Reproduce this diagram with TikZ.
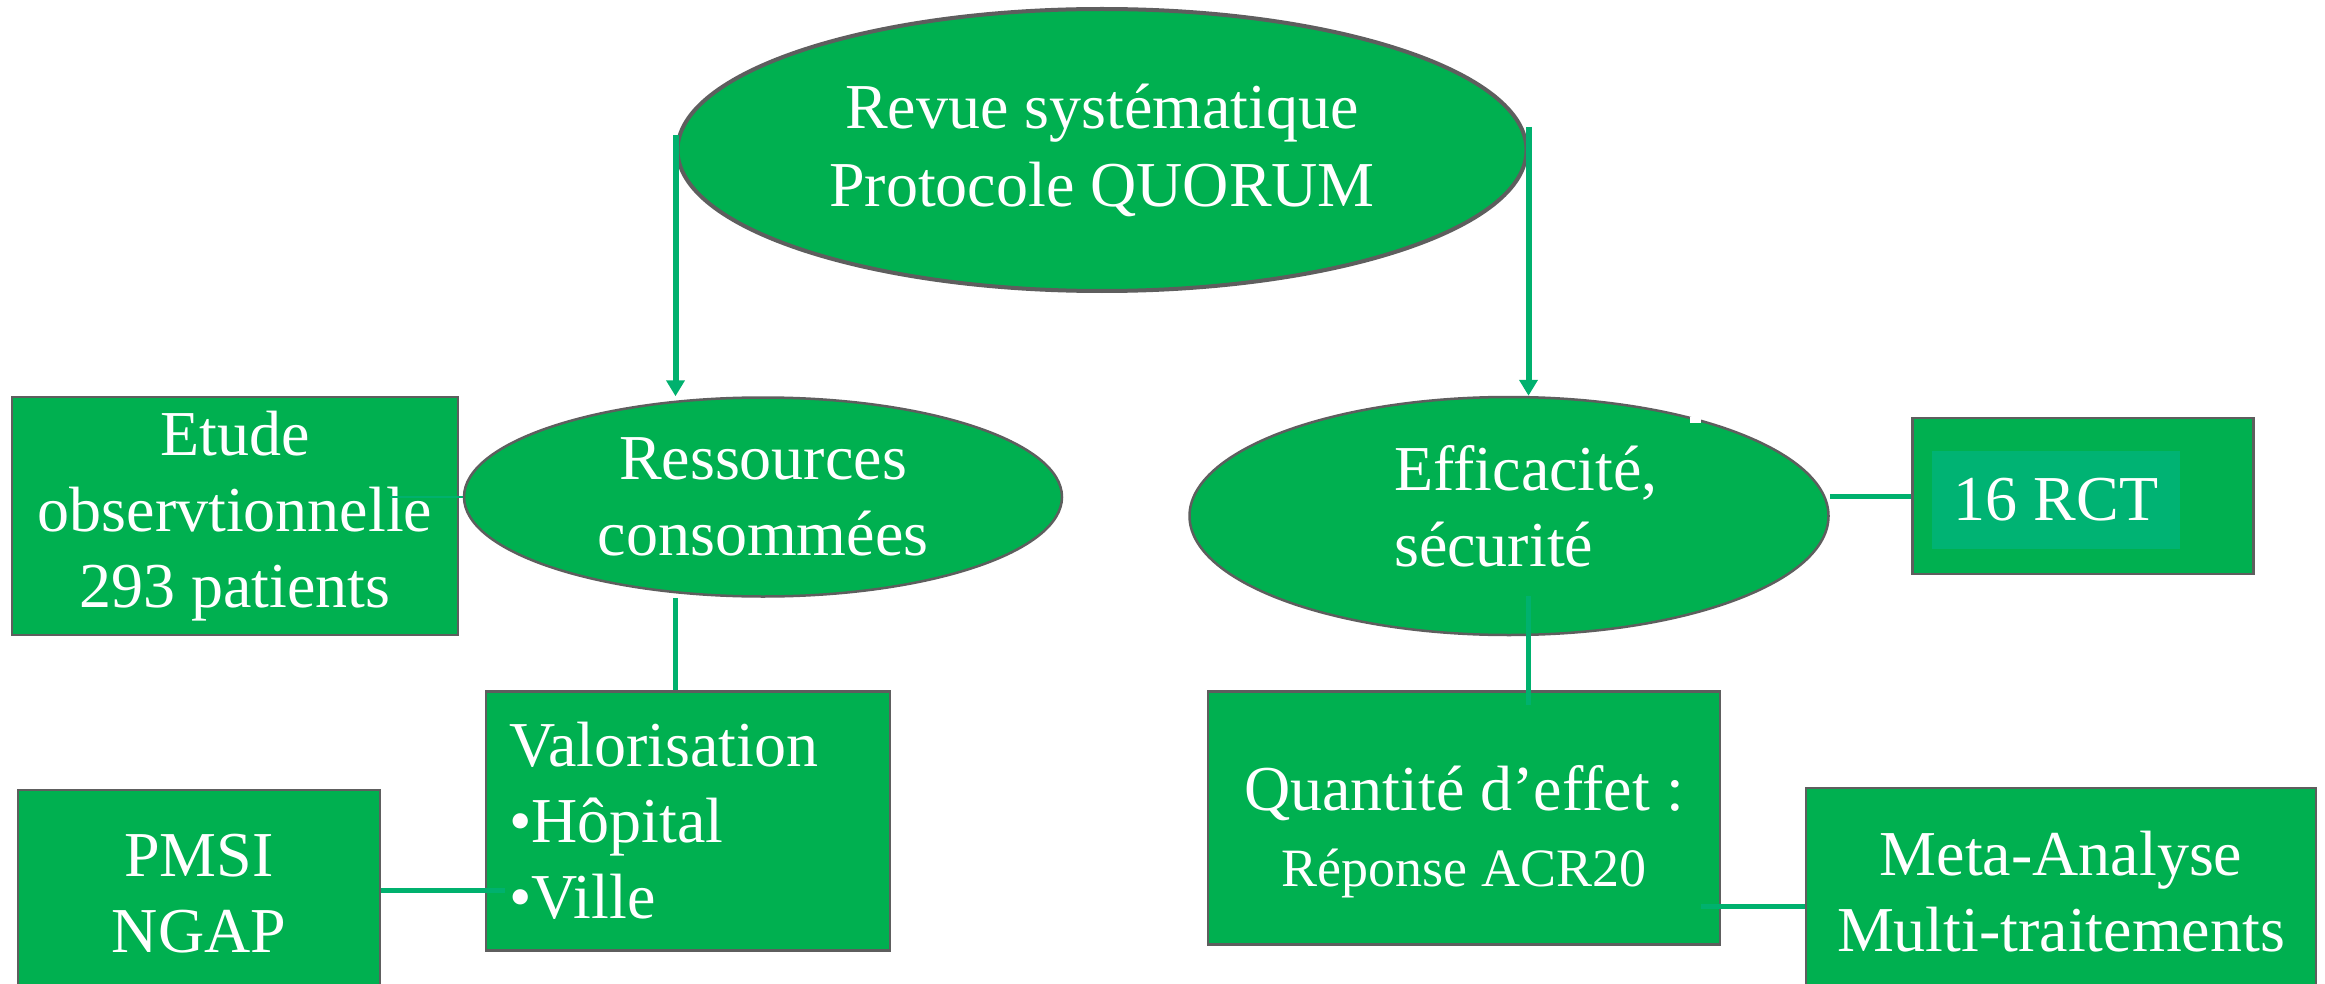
\documentclass[tikz,border=0pt]{standalone}
\usepackage{fontspec}
\setmainfont{Liberation Serif}
\usetikzlibrary{shapes.geometric,arrows.meta,calc}
\definecolor{boxgreen}{HTML}{00B050}
\definecolor{edgegray}{HTML}{5E5E5E}
\definecolor{linkteal}{HTML}{00B16E}
\definecolor{innergreen}{HTML}{00B373}
\begin{document}
\begin{tikzpicture}[x=1pt,y=-1pt,
  bigtext/.style={font=\fontsize{64}{76}\selectfont, text=white},
  ovalnode/.style={ellipse, draw=edgegray, line width=2.5pt, fill=boxgreen, inner sep=0pt, bigtext, align=center},
  boxnode/.style={rectangle, draw=edgegray, line width=2.5pt, fill=boxgreen, inner sep=0pt, bigtext, align=center},
  link/.style={draw=linkteal, line width=5pt},
  arrowlink/.style={draw=linkteal, line width=6pt, -{Triangle[width=18pt,length=16pt]}},
  thinlink/.style={draw=linkteal, line width=1.5pt}]
\useasboundingbox (0,0) rectangle (2325,984);

\node[ovalnode, line width=4pt, minimum width=849pt, minimum height=282pt, font=\fontsize{64}{78}\selectfont] (top) at (1102,150) {Revue systématique\\Protocole QUORUM};
\node[ovalnode, minimum width=598pt, minimum height=199pt] (res) at (763,497) {Ressources\\consommées};
\node[boxnode, minimum width=446pt, minimum height=238pt] (etude) at (235,516) {Etude\\observtionnelle\\293 patients};
\node[ovalnode, minimum width=639pt, minimum height=238pt] (eff) at (1509,516) {};
\node[bigtext, align=left, inner sep=0pt] (efftext) at (1526,506) {Efficacité,\\sécurité};
\fill[white] (1690,417) rectangle (1701,423);
\node[boxnode, minimum width=341pt, minimum height=156pt] (rctout) at (2083,496) {};
\node[fill=innergreen, minimum width=248pt, minimum height=98pt, inner sep=0pt, bigtext] (rct) at (2056,500) {16 RCT};
\node[boxnode, minimum width=404pt, minimum height=259pt, text width=358pt, align=left] (val) at (688,821) {Valorisation\\•Hôpital\\•Ville};
\node[boxnode, minimum width=362pt, minimum height=208pt] (pmsi) at (199,894) {PMSI\\NGAP};
\node[boxnode, minimum width=512pt, minimum height=253pt] (quant) at (1464,818) {};
\node[bigtext, align=center, inner sep=0pt] (quanttext) at (1464,832) {Quantité d’effet :\\{\fontsize{54}{58}\selectfont Réponse ACR20}};
\node[boxnode, minimum width=510pt, minimum height=208pt] (meta) at (2061,892) {Meta-Analyse\\Multi-traitements};

\coordinate (etudeend) at (390,497);
\draw[arrowlink] ([yshift=15pt]top.west) -- (top.west |- res.north);
\draw[arrowlink] ([yshift=23pt]top.east) -- (top.east |- eff.north);
\draw[thinlink] (res.west) -- (etudeend);
\draw[link] (top.west |- res.south) -- (top.west |- val.north);
\draw[link] ($(pmsi.east)+(0,-4)$) -- ($(pmsi.east -| val.west)+(20,-4)$);
\draw[link] (eff.east |- rctout.west) -- (rctout.west);
\draw[link] ($(eff.south -| top.east)+(0,-40)$) -- ($(quant.north -| top.east)+(0,15)$);
\draw[link] ($(meta.west -| quant.east)+(-20,14)$) -- ($(meta.west)+(0,14)$);
\end{tikzpicture}
\end{document}
